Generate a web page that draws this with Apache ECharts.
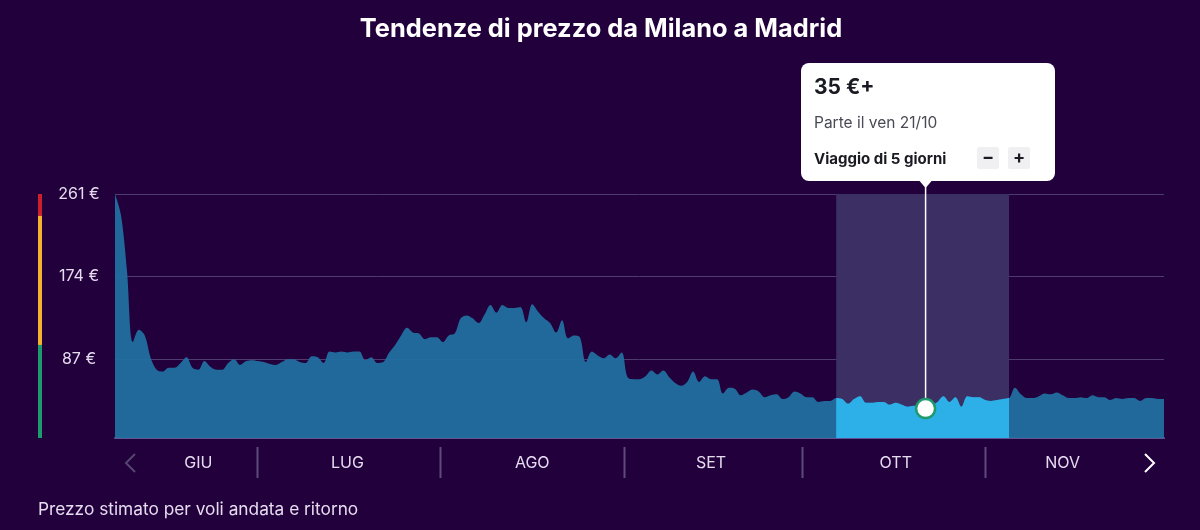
<!DOCTYPE html>
<html lang="it">

<head>
    <meta charset="utf-8">
    <title>Tendenze di prezzo da Milano a Madrid</title>
    <script src="https://cdn.jsdelivr.net/npm/echarts@6/dist/echarts.min.js"></script>
    <style type="text/css">
    html, body {
        margin: 0;
        background: #22003c;
    }

    #chart {
        width: 1200px;
        height: 530px;
    }
    </style>
</head>

<body>
    <div id="chart"></div>
    <script type="text/javascript">
    // prezzo giornaliero, dal 07/06 al 30/11
    const prices = [
        261, 239, 181, 105, 118, 112, 88, 76, 74, 78,
        78, 83, 89, 78, 76, 85, 79, 76, 76, 83,
        87, 81, 85, 86, 85, 84, 82, 81, 84, 87,
        87, 84, 83, 90, 89, 83, 95, 94, 95, 94,
        95, 95, 86, 89, 83, 84, 94, 102, 112, 120,
        115, 114, 108, 110, 110, 105, 112, 114, 130, 133,
        130, 125, 134, 144, 136, 144, 141, 141, 142, 126,
        145, 137, 130, 125, 115, 128, 109, 112, 110, 84,
        95, 91, 88, 92, 88, 94, 68, 66, 66, 69,
        75, 71, 75, 68, 62, 59, 63, 74, 63, 69,
        66, 66, 51, 57, 56, 49, 52, 55, 53, 47,
        49, 50, 45, 47, 53, 51, 47, 47, 42, 43,
        43, 46, 45, 40, 45, 48, 41, 41, 42, 42,
        39, 41, 39, 37, 38, 37, 35, 38, 42, 48,
        42, 47, 37, 48, 47, 47, 44, 43, 44, 45,
        46, 57, 50, 46, 46, 48, 51, 50, 52, 49,
        46, 46, 47, 46, 49, 47, 47, 44, 46, 45,
        46, 46, 43, 46, 46, 45, 45
    ];
    const yTicks = [87, 174, 261];
    const monthLabels = ['GIU', 'LUG', 'AGO', 'SET', 'OTT', 'NOV'];
    const monthLabelDays = ['21/06', '16/07', '16/08', '15/09', '16/10', '13/11'];
    // separatori tra i mesi, in giorni dall'inizio dell'asse
    const monthDividers = [23.8, 54.5, 85.4, 115.3, 146];
    const levelStops = [261, 238, 102, 4];
    const levelColors = ['#c9202c', '#f5b12f', '#1f9a6e'];
    const bandFrom = '06/10';
    const bandTo = '04/11';
    const selectedDay = '21/10';

    // etichette dd/mm dei giorni
    const days = [];
    for (let i = 0; i < prices.length; i++) {
        const d = new Date(2022, 5, 7 + i);
        days.push(String(d.getDate()).padStart(2, '0') + '/' + String(d.getMonth() + 1).padStart(2, '0'));
    }
    const fromIdx = days.indexOf(bandFrom);
    const toIdx = days.indexOf(bandTo);
    const selectedIdx = days.indexOf(selectedDay);
    const bandPrices = prices.map((v, i) => (i >= fromIdx && i <= toIdx ? v : null));

    const fontName = 'Inter, "Noto Sans", sans-serif';
    const chart = echarts.init(document.getElementById('chart'), null, { renderer: 'canvas' });

    chart.setOption({
        animation: false,
        backgroundColor: '#22003c',
        title: {
            text: 'Tendenze di prezzo da Milano a Madrid',
            left: 596,
            top: 12,
            textAlign: 'center',
            textStyle: { color: '#ffffff', fontFamily: fontName, fontWeight: 700, fontSize: 25.4 }
        },
        grid: { left: 115, right: 36, top: 194, bottom: 92 },
        xAxis: {
            type: 'category',
            data: days,
            boundaryGap: false,
            axisTick: { show: false },
            axisLine: { lineStyle: { color: '#5f5391', width: 2 } },
            splitLine: { show: false },
            axisLabel: {
                color: '#e6dcf0',
                fontFamily: fontName,
                fontSize: 16,
                margin: 17,
                hideOverlap: false,
                interval: (idx, val) => monthLabelDays.includes(val),
                formatter: val => monthLabels[monthLabelDays.indexOf(val)]
            }
        },
        yAxis: {
            type: 'value',
            min: 4,
            max: 261,
            axisLine: { show: false },
            axisTick: { show: false, customValues: yTicks },
            splitLine: { show: true, lineStyle: { color: '#4e3c6e', width: 1 } },
            axisLabel: {
                customValues: yTicks,
                color: '#e6dcf0',
                fontFamily: fontName,
                fontSize: 16,
                align: 'center',
                margin: 36,
                showMinLabel: true,
                showMaxLabel: true,
                formatter: v => v + ' €'
            }
        },
        series: [
            {
                type: 'line',
                data: prices,
                z: 2,
                smooth: 0.35,
                symbol: 'none',
                silent: true,
                lineStyle: { width: 0 },
                areaStyle: { color: '#2071a1', opacity: 0.93 }
            },
            {
                type: 'line',
                data: bandPrices,
                z: 3,
                smooth: 0.35,
                symbol: 'none',
                silent: true,
                lineStyle: { width: 0 },
                areaStyle: { color: '#2db0e8', opacity: 1 },
                markArea: {
                    silent: true,
                    z: 1,
                    itemStyle: { color: '#3c2f64' },
                    data: [[{ xAxis: bandFrom }, { xAxis: bandTo }]]
                }
            },
            {
                type: 'scatter',
                data: [[selectedIdx, prices[selectedIdx]]],
                z: 6,
                symbolSize: 19,
                silent: true,
                itemStyle: { color: '#ffffff', borderColor: '#1f9a6e', borderWidth: 2.5, opacity: 1 }
            }
        ]
    });

    // barra dei livelli, separatori, frecce, didascalia e riquadro del prezzo
    function drawExtras() {
        const items = [];
        const yPx = v => chart.convertToPixel({ yAxisIndex: 0 }, v);
        const xPx = v => chart.convertToPixel({ xAxisIndex: 0 }, v);

        levelColors.forEach((color, i) => {
            const top = yPx(levelStops[i]);
            items.push({
                type: 'rect',
                shape: { x: 38, y: top, width: 4, height: yPx(levelStops[i + 1]) - top },
                style: { fill: color }
            });
        });

        monthDividers.forEach(pos => {
            const x = Math.round(xPx(0) + pos * (xPx(1) - xPx(0))) + 0.5;
            items.push({
                type: 'line',
                shape: { x1: x, y1: 447, x2: x, y2: 478 },
                style: { stroke: '#5c4a78', lineWidth: 2 }
            });
        });

        items.push({
            type: 'polyline',
            shape: { points: [[135, 454], [126, 463], [135, 472]] },
            style: { stroke: '#54466f', lineWidth: 2, fill: 'none' }
        });
        items.push({
            type: 'polyline',
            shape: { points: [[1145, 454], [1154, 463], [1145, 472]] },
            style: { stroke: '#ffffff', lineWidth: 2, fill: 'none' }
        });
        items.push({
            type: 'text',
            x: 38,
            y: 510,
            style: {
                text: 'Prezzo stimato per voli andata e ritorno',
                fill: '#e6dcf0',
                font: '17.3px ' + fontName,
                textVerticalAlign: 'middle'
            }
        });

        const px = xPx(selectedIdx);
        const py = yPx(prices[selectedIdx]);
        items.push({
            type: 'line',
            z: 4,
            shape: { x1: px, y1: 181, x2: px, y2: py },
            style: { stroke: '#ffffff', lineWidth: 1.5 }
        });
        items.push({
            type: 'rect',
            z: 5,
            shape: { x: 801, y: 63, width: 254, height: 118, r: 8 },
            style: { fill: '#ffffff' }
        });
        items.push({
            type: 'polygon',
            z: 5,
            shape: { points: [[px - 6, 181], [px + 6, 181], [px, 188]] },
            style: { fill: '#ffffff' }
        });

        const textRows = [
            { text: prices[selectedIdx] + ' €+', y: 88, font: '700 21px ' + fontName, fill: '#1a1a22' },
            { text: 'Parte il ven ' + selectedDay, y: 123, font: '15.5px ' + fontName, fill: '#4a4a55' },
            { text: 'Viaggio di 5 giorni', y: 159, font: '700 15px ' + fontName, fill: '#1a1a22' }
        ];
        textRows.forEach(row => {
            items.push({
                type: 'text',
                z: 6,
                x: 814,
                y: row.y,
                style: { text: row.text, font: row.font, fill: row.fill, textVerticalAlign: 'middle' }
            });
        });

        [[977, '−'], [1008, '+']].forEach(btn => {
            items.push({
                type: 'rect',
                z: 6,
                shape: { x: btn[0], y: 147, width: 22, height: 22, r: 2 },
                style: { fill: '#f0f0f2' }
            });
            items.push({
                type: 'text',
                z: 7,
                x: btn[0] + 11,
                y: 158,
                style: {
                    text: btn[1],
                    font: '700 18px ' + fontName,
                    fill: '#1a1a22',
                    textAlign: 'center',
                    textVerticalAlign: 'middle'
                }
            });
        });

        chart.setOption({ graphic: items });
    }

    drawExtras();
    </script>
</body>

</html>
